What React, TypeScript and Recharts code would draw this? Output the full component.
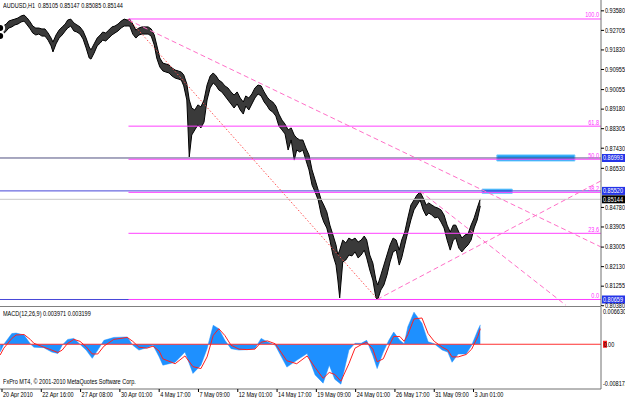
import {
  Area,
  ComposedChart,
  Line,
  ReferenceArea,
  ReferenceLine,
  XAxis,
  YAxis,
} from "recharts";

const FONT = '"Liberation Sans", Arial, sans-serif';
const FS = 6.6;
const SX = 0.84; // MT4 text is narrower than Arial, squeeze it

// trading hours counted from 20 Apr 2010 00:00 (H1 bars)
const barHours = [
  -3, 2, 7, 11, 16, 21, 26, 31, 36, 41, 46, 50, 55, 60, 65, 70, 75, 80, 83, 88,
  93, 98, 103, 107, 112, 117, 122, 127, 132, 137, 142, 145, 150, 155, 160, 164,
  169, 174, 179, 184, 189, 194, 199, 204, 208, 213, 218, 223, 228, 233, 238,
  243, 248, 252, 257, 262, 267, 272, 277, 282, 287, 292, 296, 301, 305, 309,
  314, 319, 324, 329, 334, 339, 344, 349, 353, 358, 363, 368, 373, 378, 383,
  388, 393, 397, 402, 407, 412, 417, 422, 427, 432, 436, 441, 446, 451, 456,
  461, 466, 471, 476, 480, 485, 490, 495, 500, 505, 510, 515, 520, 524, 529,
  534, 539, 544, 547, 550, 555, 560, 565, 570, 575, 580, 585, 590, 594, 599,
  604, 609, 612, 617, 622, 627, 632, 637, 642, 647, 651, 656, 661, 666, 671,
  676, 681, 686, 691, 695, 700, 705, 710, 715, 720, 725, 730, 735, 739, 744,
  749, 754, 759, 764, 769, 774, 779,
];
const barHighs = [
  0.9281, 0.929, 0.9299, 0.9312, 0.9317, 0.9321, 0.9326, 0.9335, 0.9339, 0.9326,
  0.9308, 0.929, 0.9281, 0.9281, 0.9277, 0.9277, 0.9259, 0.9236, 0.9218, 0.925,
  0.9272, 0.9286, 0.9299, 0.9317, 0.9321, 0.9304, 0.9295, 0.9286, 0.9268,
  0.9236, 0.9196, 0.9183, 0.921, 0.9236, 0.925, 0.9263, 0.9259, 0.9272, 0.9286,
  0.929, 0.9299, 0.9312, 0.9321, 0.9317, 0.9321, 0.9299, 0.9272, 0.9281,
  0.9286, 0.9286, 0.9286, 0.9277, 0.925, 0.9205, 0.9147, 0.9124, 0.912, 0.9116,
  0.9102, 0.9093, 0.9089, 0.9084, 0.9071, 0.9031, 0.8959, 0.8923, 0.8914,
  0.8937, 0.8928, 0.8959, 0.9026, 0.9066, 0.908, 0.9066, 0.9048, 0.9039,
  0.9022, 0.9013, 0.8995, 0.8981, 0.8995, 0.8968, 0.895, 0.8977, 0.8968,
  0.8986, 0.9013, 0.9026, 0.9022, 0.8995, 0.8972, 0.8959, 0.895, 0.8932,
  0.8896, 0.8869, 0.8851, 0.8825, 0.8834, 0.8802, 0.8789, 0.878, 0.878, 0.8744,
  0.8713, 0.8646, 0.8601, 0.8556, 0.8511, 0.8489, 0.8458, 0.8399, 0.8355,
  0.831, 0.8265, 0.8287, 0.8332, 0.8319, 0.8341, 0.8332, 0.8341, 0.8323,
  0.8332, 0.835, 0.8332, 0.8265, 0.8229, 0.8153, 0.8131, 0.8175, 0.822, 0.8265,
  0.831, 0.8341, 0.8332, 0.8287, 0.8332, 0.8368, 0.8431, 0.8489, 0.8511,
  0.8534, 0.8547, 0.852, 0.8489, 0.8498, 0.8489, 0.848, 0.8475, 0.8467, 0.8444,
  0.8399, 0.8368, 0.8399, 0.8399, 0.8368, 0.8341, 0.8355, 0.8359, 0.8399,
  0.8431, 0.8475, 0.8516,
];
const barLows = [
  0.9245, 0.9254, 0.9268, 0.9281, 0.9286, 0.9295, 0.9299, 0.9308, 0.9312,
  0.9295, 0.9277, 0.9259, 0.925, 0.9254, 0.9245, 0.9245, 0.9227, 0.9201,
  0.9174, 0.921, 0.9236, 0.925, 0.9268, 0.9281, 0.929, 0.9268, 0.9263, 0.9254,
  0.9232, 0.9192, 0.9147, 0.9142, 0.9169, 0.9201, 0.9214, 0.9227, 0.9223,
  0.9236, 0.925, 0.9259, 0.9268, 0.9281, 0.929, 0.929, 0.929, 0.9254, 0.9236,
  0.925, 0.9254, 0.9254, 0.9254, 0.9245, 0.9205, 0.9147, 0.9107, 0.9089,
  0.9084, 0.908, 0.9066, 0.9057, 0.9053, 0.9048, 0.9022, 0.8959, 0.8704,
  0.8802, 0.8825, 0.8847, 0.8834, 0.886, 0.8959, 0.9013, 0.9035, 0.9022,
  0.9004, 0.8995, 0.8977, 0.8959, 0.8941, 0.8923, 0.8941, 0.8914, 0.8896,
  0.8932, 0.8914, 0.8941, 0.8968, 0.8986, 0.8977, 0.895, 0.8932, 0.8914,
  0.8905, 0.8887, 0.8842, 0.8825, 0.8807, 0.8735, 0.878, 0.869, 0.8735, 0.8726,
  0.8735, 0.869, 0.8646, 0.8578, 0.8547, 0.8511, 0.8444, 0.8413, 0.8386,
  0.8332, 0.8265, 0.822, 0.8153, 0.8073, 0.8234, 0.8243, 0.8265, 0.8261,
  0.8279, 0.8252, 0.8265, 0.8287, 0.8252, 0.8198, 0.8153, 0.8073, 0.8066,
  0.8108, 0.8131, 0.8175, 0.8234, 0.8279, 0.8287, 0.822, 0.8252, 0.831, 0.8368,
  0.8422, 0.8467, 0.8489, 0.8511, 0.8467, 0.844, 0.8453, 0.8444, 0.8431,
  0.8435, 0.8413, 0.8386, 0.8332, 0.8287, 0.8332, 0.8341, 0.8296, 0.8279,
  0.8296, 0.831, 0.8332, 0.8386, 0.8422, 0.8484,
];

const macdHours = [
  -3, 3, 16, 23, 36, 46, 52, 68, 81, 91, 98, 107, 117, 127, 137, 147, 156, 166,
  182, 204, 213, 223, 236, 246, 256, 262, 282, 298, 311, 324, 334, 344, 353,
  363, 373, 386, 399, 412, 422, 432, 445, 464, 480, 497, 510, 523, 533, 542,
  552, 565, 575, 585, 594, 604, 611, 621, 630, 638, 648, 655, 661, 671, 684,
  694, 704, 717, 726, 733, 743, 756, 765, 775, 779,
];
const macdMain = [
  -0.0016, 0, 0.0022, 0.0023, 0.0019, 0.0001, -0.0006, -0.0007, -0.0016,
  -0.0019, -0.0002, 0.001, 0.0012, 0, -0.0012, -0.0029, -0.0012, 0.0008,
  0.0014, 0.0015, -0.0002, -0.0012, -0.0007, -0.0002, -0.0026, -0.0043,
  -0.0037, -0.0016, -0.006, -0.0043, -0.0009, 0.0039, 0.0032, 0.0008, -0.0009,
  -0.0012, -0.0011, -0.0009, 0.0012, 0.0005, -0.0002, -0.0047, -0.0033,
  -0.0019, -0.0063, -0.008, -0.0043, -0.0072, -0.0082, -0.0012, 0.0002, 0.0002,
  0.0008, -0.0023, -0.005, -0.0016, 0.0008, 0.0025, 0.0008, 0.0001, 0.0036,
  0.0066, 0.0043, 0.0005, 0.0001, -0.0012, -0.0016, -0.0037, -0.002, -0.002,
  -0.0002, 0.0029, 0.004,
];
const macdSignal = [
  -0.0022, -0.0008, 0.0012, 0.0019, 0.002, 0.001, 0.0002, -0.0006, -0.0012,
  -0.0017, -0.0012, 0.0002, 0.001, 0.0006, -0.0005, -0.002, -0.002, -0.0004,
  0.001, 0.0014, 0.0006, -0.0006, -0.0008, -0.0004, -0.0014, -0.003, -0.004,
  -0.0024, -0.0046, -0.005, -0.0026, 0.0018, 0.0032, 0.0018, -0.0002, -0.001,
  -0.0011, -0.001, 0.0004, 0.0007, 0.0001, -0.0034, -0.004, -0.0024, -0.0048,
  -0.007, -0.0058, -0.0062, -0.0076, -0.004, -0.0008, -0.0001, 0.0004, -0.001,
  -0.0036, -0.003, -0.0004, 0.0016, 0.0016, 0.0006, 0.002, 0.0052, 0.0054,
  0.0022, 0.0006, -0.0006, -0.0012, -0.0026, -0.0026, -0.0021, -0.001, 0.0016,
  0.0032,
];

const timeTicks = [0, 64, 128, 192, 256, 320, 384, 448, 512, 576, 640, 704, 768];
const timeLabels = [
  "20 Apr 2010",
  "22 Apr 16:00",
  "27 Apr 08:00",
  "30 Apr 01:00",
  "4 May 17:00",
  "7 May 09:00",
  "12 May 01:00",
  "14 May 17:00",
  "19 May 09:00",
  "24 May 01:00",
  "26 May 17:00",
  "31 May 09:00",
  "3 Jun 01:00",
];
const priceTicks = [
  0.9358, 0.92705, 0.9183, 0.90955, 0.90055, 0.8918, 0.88305, 0.8743, 0.8653,
  0.8478, 0.83905, 0.83005, 0.8213, 0.81255, 0.8038,
];
const macdTicks = [0.00663, -0.008172];

const fibHigh = 0.93215;
const fibLow = 0.80659;
const fibHighHour = 206;
const fibLowHour = 612;
const fibLevels = [100, 61.8, 50, 38.2, 23.6, 0];

const blueLevels = [0.86993, 0.8552, 0.80659];
const bidPrice = 0.85144;

const trendLines = [
  { h1: 206, p1: 0.9317, h2: 975.6, p2: 0.8301 },
  { h1: 681, p1: 0.8551, h2: 918, p2: 0.8041 },
  { h1: 611, p1: 0.8066, h2: 975.6, p2: 0.8597 },
];
const boxes = [
  { h1: 806, h2: 933, p1: 0.8686, p2: 0.8713 },
  { h1: 782, h2: 831, p1: 0.8541, p2: 0.856 },
];

const X_DOMAIN: [number, number] = [-3.26, 975.6];
const PRICE_DOMAIN: [number, number] = [0.80368, 0.94065];
const MACD_DOMAIN: [number, number] = [-0.0092, 0.00766];

const priceRows = barHours.map((h, i) => ({ h, range: [barLows[i], barHighs[i]] }));
const macdRows = macdHours.map((h, i) => ({ h, hist: macdMain[i], sig: macdSignal[i] }));

function SText(props: any) {
  const { x, y, fill = "#000", anchor = "start", children } = props;
  return (
    <g transform={`translate(${x},${y}) scale(${SX},1)`}>
      <text x={0} y={0} textAnchor={anchor} fontSize={FS} fontFamily={FONT} fill={fill}>
        {children}
      </text>
    </g>
  );
}

function PriceTick(props: any) {
  const { x, y, payload } = props;
  return <SText x={x} y={y + 2.3}>{payload.value.toFixed(5)}</SText>;
}

function MacdTick(props: any) {
  const { x, y, payload } = props;
  return <SText x={x} y={y + 2.3}>{payload.value.toFixed(6)}</SText>;
}

function TimeTick(props: any) {
  const { x, y, payload } = props;
  const i = timeTicks.indexOf(payload.value);
  return <SText x={x + 1} y={y + 4.5}>{timeLabels[i]}</SText>;
}

function AxisBox(props: any) {
  const { viewBox, text, bg } = props;
  if (!viewBox) return null;
  const x = viewBox.x + viewBox.width + 1;
  const y = viewBox.y;
  return (
    <g>
      <rect x={x} y={y - 4} width={24} height={8} fill={bg} />
      <SText x={x + 1} y={y + 2.3} fill="#fff">
        {text}
      </SText>
    </g>
  );
}

function FibLabel(props: any) {
  const { viewBox, text } = props;
  if (!viewBox) return null;
  return (
    <SText x={viewBox.x + viewBox.width - 2} y={viewBox.y - 1.5} anchor="end" fill="#ff30ff">
      {text}
    </SText>
  );
}

function ZeroBox(props: any) {
  const { viewBox } = props;
  if (!viewBox) return null;
  const x = viewBox.x + viewBox.width + 2;
  const y = viewBox.y;
  return (
    <g>
      <rect x={x} y={y - 3.5} width={4} height={7} fill="#ff2020" />
      <SText x={x + 0.5} y={y + 2.3}>0.00</SText>
    </g>
  );
}

const overlayText = {
  position: "absolute" as const,
  left: 3,
  fontSize: FS,
  fontFamily: FONT,
  lineHeight: "8px",
  color: "#000",
  whiteSpace: "nowrap" as const,
  transform: `scaleX(${SX})`,
  transformOrigin: "0 0",
};

export default function App() {
  return (
    <div
      style={{
        position: "absolute",
        left: 0,
        top: 0,
        width: 625,
        height: 398,
        background: "#fff",
        overflow: "hidden",
      }}
    >
      <style>{"svg.recharts-surface{overflow:visible}"}</style>
      <ComposedChart
        width={625}
        height={306}
        data={priceRows}
        margin={{ top: 0, right: 0, bottom: 0, left: 0 }}
      >
        <XAxis dataKey="h" type="number" domain={X_DOMAIN} allowDataOverflow hide />
        <YAxis
          orientation="right"
          type="number"
          width={24}
          domain={PRICE_DOMAIN}
          allowDataOverflow
          ticks={priceTicks}
          interval={0}
          tickSize={3}
          tickMargin={1}
          tickLine={{ stroke: "#000" }}
          axisLine={{ stroke: "#707070" }}
          tick={<PriceTick />}
        />
        {boxes.map((b, i) => (
          <ReferenceArea
            key={`box${i}`}
            x1={b.h1}
            x2={b.h2}
            y1={b.p1}
            y2={b.p2}
            fill="#1e9cf0"
            fillOpacity={1}
            stroke="#6cc8ff"
            strokeWidth={1}
            ifOverflow="visible"
          />
        ))}
        <ReferenceLine y={bidPrice} stroke="#c8c8c8" label={<AxisBox text="0.85144" bg="#000" />} />
        {blueLevels.map((p, i) => (
          <ReferenceLine
            key={`bl${i}`}
            y={p}
            stroke={i === 0 ? "#505080" : "#4646d8"}
            label={<AxisBox text={p.toFixed(5)} bg="#2434e8" />}
          />
        ))}
        {fibLevels.map((lv) => {
          const p = fibLow + ((fibHigh - fibLow) * lv) / 100;
          return (
            <ReferenceLine
              key={`fib${lv}`}
              segment={[
                { x: fibHighHour, y: p },
                { x: X_DOMAIN[1], y: p },
              ]}
              stroke="#ff40ff"
              ifOverflow="visible"
            />
          );
        })}
        {fibLevels.map((lv) => {
          const p = fibLow + ((fibHigh - fibLow) * lv) / 100;
          return (
            <ReferenceLine
              key={`fibl${lv}`}
              y={p}
              stroke="none"
              label={<FibLabel text={lv.toFixed(1)} />}
            />
          );
        })}
        <ReferenceLine
          segment={[
            { x: fibHighHour, y: fibHigh },
            { x: fibLowHour, y: fibLow },
          ]}
          stroke="#ff5050"
          strokeDasharray="1.5 2"
          ifOverflow="visible"
        />
        {trendLines.map((t, i) => (
          <ReferenceLine
            key={`tl${i}`}
            segment={[
              { x: t.h1, y: t.p1 },
              { x: t.h2, y: t.p2 },
            ]}
            stroke="#ff70c8"
            strokeDasharray="5 3"
            ifOverflow="visible"
          />
        ))}
        <Area
          dataKey="range"
          type="linear"
          stroke="#000"
          strokeWidth={1}
          fill="#3a3a3a"
          fillOpacity={1}
          isAnimationActive={false}
        />
      </ComposedChart>
      <div
        style={{
          position: "absolute",
          left: 0,
          top: 306,
          width: 601,
          height: 1,
          background: "#808080",
        }}
      />
      <ComposedChart
        width={625}
        height={92}
        data={macdRows}
        margin={{ top: 1, right: 0, bottom: 0, left: 0 }}
      >
        <XAxis
          dataKey="h"
          type="number"
          domain={X_DOMAIN}
          allowDataOverflow
          ticks={timeTicks}
          interval={0}
          height={9}
          tickSize={3}
          tickMargin={0}
          tickLine={{ stroke: "#000" }}
          axisLine={{ stroke: "#707070" }}
          tick={<TimeTick />}
        />
        <YAxis
          orientation="right"
          type="number"
          width={24}
          domain={MACD_DOMAIN}
          allowDataOverflow
          ticks={macdTicks}
          interval={0}
          tickSize={2}
          tickMargin={0}
          tickLine={false}
          axisLine={{ stroke: "#707070" }}
          tick={<MacdTick />}
        />
        <Area
          dataKey="hist"
          type="linear"
          baseValue={0}
          stroke="#1e90ff"
          strokeWidth={0.5}
          fill="#1e90ff"
          fillOpacity={1}
          isAnimationActive={false}
        />
        <ReferenceLine y={0} stroke="#ff3030" label={<ZeroBox />} />
        <Line
          dataKey="sig"
          type="linear"
          stroke="#ff2020"
          strokeWidth={1}
          dot={false}
          isAnimationActive={false}
        />
      </ComposedChart>
      <div style={{ ...overlayText, top: 2 }}>
        AUDUSD,H1&nbsp; 0.85105 0.85147 0.85085 0.85144
      </div>
      <div style={{ ...overlayText, top: 310 }}>MACD(12,26,9) 0.003971 0.003199</div>
      <div style={{ ...overlayText, top: 378 }}>
        FxPro MT4, © 2001-2010 MetaQuotes Software Corp.
      </div>
    </div>
  );
}
